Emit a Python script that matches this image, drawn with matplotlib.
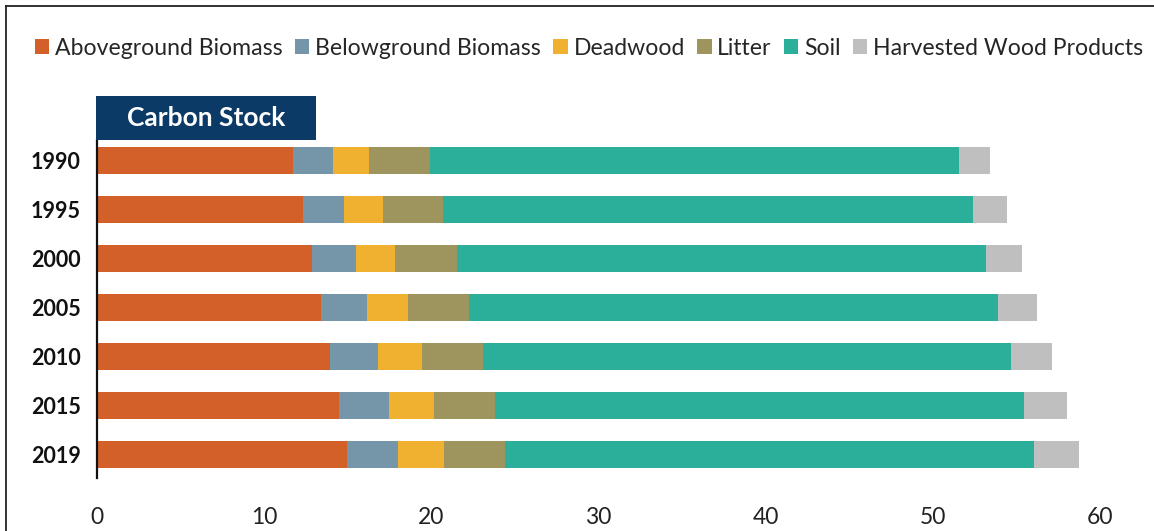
import matplotlib
matplotlib.use('Agg')
import matplotlib.pyplot as plt
from matplotlib.patches import Rectangle
from matplotlib.lines import Line2D
import numpy as np

years = ['1990', '1995', '2000', '2005', '2010', '2015', '2019']
aboveground = [11.77, 12.37, 12.89, 13.42, 13.96, 14.48, 14.98]
belowground = [2.35, 2.45, 2.61, 2.76, 2.84, 3.02, 3.03]
deadwood = [2.14, 2.29, 2.37, 2.47, 2.63, 2.67, 2.78]
litter = [3.69, 3.60, 3.67, 3.60, 3.67, 3.67, 3.65]
soil = [31.59, 31.67, 31.63, 31.67, 31.60, 31.60, 31.62]
hwp = [1.90, 2.06, 2.19, 2.34, 2.44, 2.61, 2.67]

series_names = ['Aboveground Biomass', 'Belowground Biomass', 'Deadwood',
                'Litter', 'Soil', 'Harvested Wood Products']
series_values = [aboveground, belowground, deadwood, litter, soil, hwp]
colors = ['#D36028', '#7496A8', '#F0B131', '#9E955E', '#2BAE9A', '#BFBFBF']
x_ticks = [0, 10, 20, 30, 40, 50, 60]

plt.rcParams['font.family'] = ['Lato', 'DejaVu Sans']

W, H = 1154, 531
fig = plt.figure(figsize=(W / 100, H / 100), dpi=100)
ax_left, ax_right, ax_top, ax_bot = 96.6, 1100, 140, 478
ax = fig.add_axes([ax_left / W, 1 - ax_bot / H, (ax_right - ax_left) / W, (ax_bot - ax_top) / H])

y = np.arange(len(years))
cum = np.zeros(len(years))
handles = []
for name, vals, c in zip(series_names, series_values, colors):
    vals = np.array(vals)
    b = ax.barh(y, vals, left=cum, height=0.56, color=c, label=name, linewidth=0)
    handles.append(b)
    cum += vals

ax.set_xlim(0, 60)
ax.set_ylim(6.48, -0.42)
ax.set_xticks(x_ticks)
ax.set_xticklabels([str(t) for t in x_ticks])
ax.set_yticks(y)
ax.set_yticklabels(years, fontweight='bold')
for s in ['top', 'right', 'bottom']:
    ax.spines[s].set_visible(False)
ax.spines['left'].set_linewidth(1.6)
ax.spines['left'].set_color('#111111')
ax.tick_params(axis='x', length=0, pad=21, labelsize=16.5, labelcolor='#222222')
ax.tick_params(axis='y', length=0, pad=11.5, labelsize=15.5, labelcolor='#111111')

# Title box
fig.add_artist(Rectangle((95.7 / W, 1 - 140 / H), (316 - 95.7) / W, (140 - 95.7) / H,
                         transform=fig.transFigure, facecolor='#0B3A66', edgecolor='none'))
fig.text(205.9 / W, 1 - 118 / H, 'Carbon Stock', color='white', fontsize=19,
         fontweight='bold', ha='center', va='center')

# Frame lines (top and left)
fig.add_artist(Line2D([6 / W, 1], [1 - 6 / H, 1 - 6 / H], transform=fig.transFigure,
                      color='#222222', lw=1.3))
fig.add_artist(Line2D([6 / W, 6 / W], [0, 1 - 6 / H], transform=fig.transFigure,
                      color='#222222', lw=1.3))

fig.legend(handles=handles, labels=series_names, loc='center left',
           bbox_to_anchor=(35 / W, 1 - 48.5 / H), ncol=6, frameon=False,
           handlelength=0.62, handleheight=0.62, handletextpad=0.25,
           columnspacing=0.54, fontsize=16.6, borderaxespad=0, borderpad=0,
           labelcolor='#262626')

fig.savefig('out.png', dpi=100)
